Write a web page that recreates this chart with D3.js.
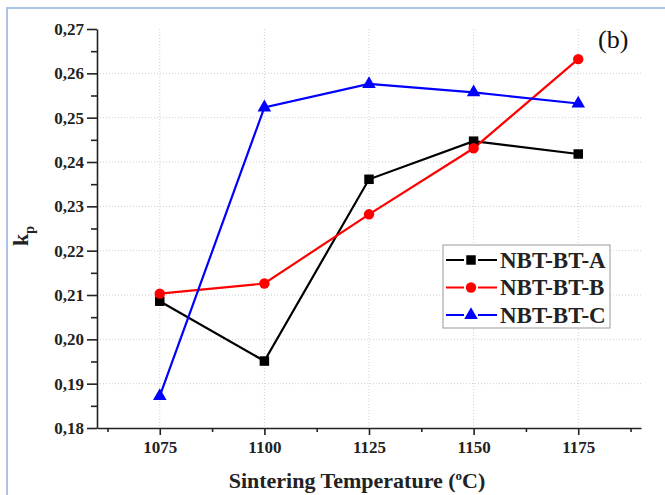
<!DOCTYPE html>
<html>
  <head>
    <meta charset="utf-8">
    <script src="https://d3js.org/d3.v7.min.js"></script>
    <style>
      body { margin: 0; background: #fff; }
      text { font-family: "Liberation Serif", "Times New Roman", serif; }
    </style>
  </head>
<body>
  <script type="text/javascript">
    "use strict";

    // data
    var temps = [1075, 1100, 1125, 1150, 1175];
    var kpA = [0.2086, 0.1951, 0.2361, 0.2447, 0.2418];
    var kpB = [0.2103, 0.2126, 0.2282, 0.2431, 0.2632];
    var kpC = [0.1872, 0.2523, 0.2576, 0.2557, 0.2532];
    var seriesNames = ["NBT-BT-A", "NBT-BT-B", "NBT-BT-C"];
    var yTicks = [0.18, 0.19, 0.20, 0.21, 0.22, 0.23, 0.24, 0.25, 0.26, 0.27];

    var series = [
      { name: seriesNames[0], values: kpA, color: "#000000", symbol: d3.symbolSquare, size: 90 },
      { name: seriesNames[1], values: kpB, color: "#ff0000", symbol: d3.symbolCircle, size: 85 },
      { name: seriesNames[2], values: kpC, color: "#0000ff", symbol: d3.symbolTriangle, size: 80 }
    ];

    var width = 665, height = 495;
    var mLeft = 97, mRight = 641, mTop = 29, mBottom = 428;

    var svg = d3.select("body").append("svg")
      .attr("width", width)
      .attr("height", height);

    // light blue frame around the figure
    svg.append("path")
      .attr("d", "M7,495 V8 H665")
      .attr("fill", "none")
      .attr("stroke", "#a9c4e4")
      .attr("stroke-width", 2);

    var x = d3.scaleLinear().domain([1060, 1190]).range([mLeft, mRight]);
    var y = d3.scaleLinear().domain([0.18, 0.27]).range([mBottom, mTop]);

    // dotted grid
    var grid = svg.append("g").attr("stroke", "#cfcfcf").attr("stroke-dasharray", "1,2");
    grid.selectAll(".gx").data(temps).enter().append("line")
      .attr("x1", function (d) { return x(d); }).attr("x2", function (d) { return x(d); })
      .attr("y1", mTop).attr("y2", mBottom);
    grid.selectAll(".gy").data(yTicks.slice(1, -1)).enter().append("line")
      .attr("x1", mLeft).attr("x2", mRight)
      .attr("y1", function (d) { return y(d); }).attr("y2", function (d) { return y(d); });

    // axes
    var fmt = function (d) { return d3.format(".2f")(d).replace(".", ","); };

    svg.append("g")
      .attr("transform", "translate(" + mLeft + ",0)")
      .call(d3.axisLeft(y).tickValues(yTicks).tickFormat(fmt).tickSize(10).tickSizeOuter(0).tickPadding(3));
    var yMinor = d3.range(0.185, 0.27, 0.01);
    svg.append("g")
      .attr("transform", "translate(" + mLeft + ",0)")
      .call(d3.axisLeft(y).tickValues(yMinor).tickFormat("").tickSize(6).tickSizeOuter(0))
      .select(".domain").remove();

    svg.append("g")
      .attr("transform", "translate(0," + mBottom + ")")
      .call(d3.axisBottom(x).tickValues(temps).tickFormat(d3.format("d")).tickSize(7).tickSizeOuter(0).tickPadding(6));
    var xMinor = d3.range(1062.5, 1190, 25);
    svg.append("g")
      .attr("transform", "translate(0," + mBottom + ")")
      .call(d3.axisBottom(x).tickValues(xMinor).tickFormat("").tickSize(4).tickSizeOuter(0))
      .select(".domain").remove();

    svg.selectAll(".domain, .tick line").attr("stroke", "#222").attr("stroke-width", 1.6);
    svg.selectAll(".tick text")
      .attr("fill", "#222")
      .style("font-family", "'Liberation Serif', serif")
      .style("font-weight", "bold")
      .style("font-size", "17px");

    // lines and markers
    var line = d3.line()
      .x(function (d, i) { return x(temps[i]); })
      .y(function (d) { return y(d); });

    series.forEach(function (s) {
      svg.append("path")
        .datum(s.values)
        .attr("fill", "none")
        .attr("stroke", s.color)
        .attr("stroke-width", 2.2)
        .attr("d", line);
    });
    series.forEach(function (s) {
      svg.selectAll(null).data(s.values).enter().append("path")
        .attr("d", d3.symbol().type(s.symbol).size(s.size))
        .attr("fill", s.color)
        .attr("transform", function (d, i) { return "translate(" + x(temps[i]) + "," + y(d) + ")"; });
    });

    // axis titles
    svg.append("text")
      .attr("x", 357)
      .attr("y", 488)
      .attr("text-anchor", "middle")
      .style("font-weight", "bold")
      .style("font-size", "22px")
      .attr("fill", "#222")
      .html("Sintering Temperature (<tspan dy='-8' font-size='13px'>o</tspan><tspan dy='8'>C)</tspan>");

    svg.append("text")
      .attr("transform", "translate(28,236) rotate(-90)")
      .attr("text-anchor", "middle")
      .style("font-weight", "bold")
      .style("font-size", "22px")
      .attr("fill", "#222")
      .html("k<tspan dy='6' font-size='14px'>p</tspan>");

    svg.append("text")
      .attr("x", 598)
      .attr("y", 48)
      .style("font-size", "26px")
      .attr("fill", "#111")
      .text("(b)");

    // legend
    var legend = svg.append("g").attr("transform", "translate(443,245)");
    legend.append("rect")
      .attr("width", 167).attr("height", 83)
      .attr("fill", "#fff")
      .attr("stroke", "#999")
      .attr("stroke-width", 1);
    series.forEach(function (s, i) {
      var ry = 15 + i * 27.5;
      legend.append("line")
        .attr("x1", 3).attr("x2", 54)
        .attr("y1", ry).attr("y2", ry)
        .attr("stroke", s.color).attr("stroke-width", 2.2);
      legend.append("rect")
        .attr("x", 21).attr("y", ry - 6).attr("width", 14).attr("height", 12)
        .attr("fill", "#fff");
      legend.append("path")
        .attr("d", d3.symbol().type(s.symbol).size(s.size))
        .attr("fill", s.color)
        .attr("transform", "translate(28," + ry + ")");
      legend.append("text")
        .attr("x", 57).attr("y", ry + 7.5)
        .style("font-weight", "bold")
        .style("font-size", "23px")
        .attr("fill", "#222")
        .text(s.name);
    });
  </script>
</body>
</html>
